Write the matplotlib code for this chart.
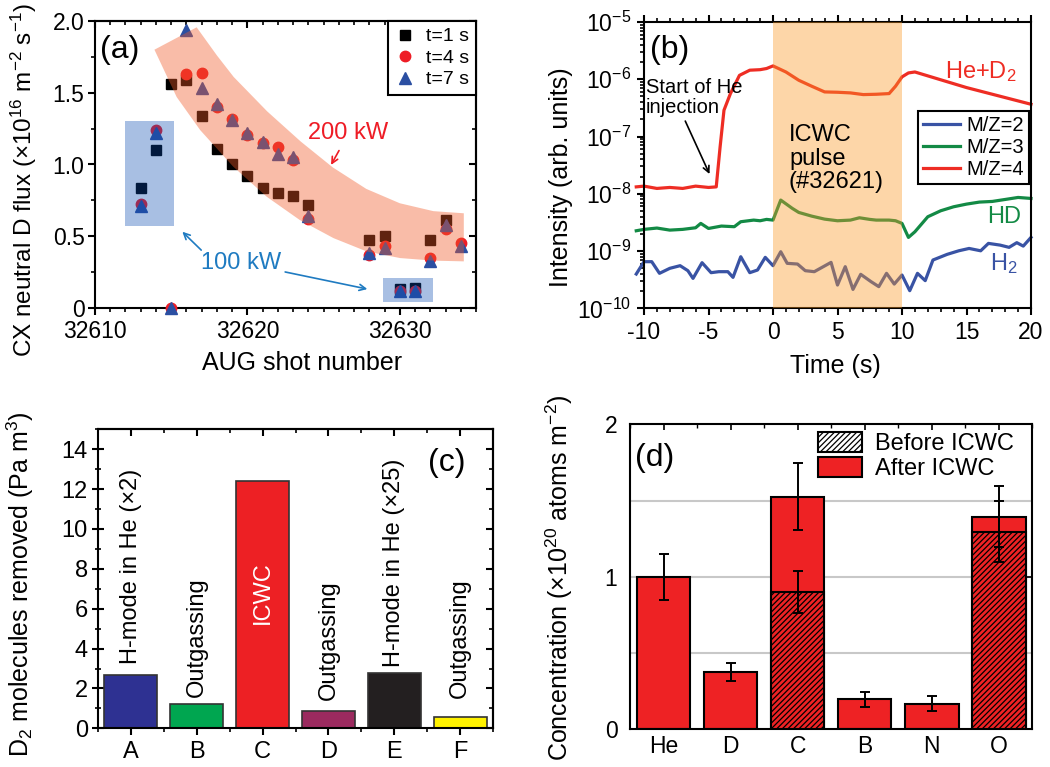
import numpy as np
import matplotlib
matplotlib.use('Agg')
import matplotlib.pyplot as plt
from matplotlib.patches import Polygon, Rectangle, Patch
from matplotlib import ticker

plt.rcParams['font.family'] = ['Liberation Sans', 'DejaVu Sans']
plt.rcParams['mathtext.fontset'] = 'custom'
plt.rcParams['mathtext.rm'] = 'Liberation Sans'
plt.rcParams['mathtext.it'] = 'Liberation Sans:italic'
plt.rcParams['mathtext.bf'] = 'Liberation Sans:bold'
plt.rcParams['mathtext.default'] = 'regular'
plt.rcParams['axes.unicode_minus'] = False
plt.rcParams['hatch.linewidth'] = 0.9
plt.rcParams['axes.linewidth'] = 1.5

# ---------------- data ----------------
# (a) CX neutral D flux vs shot
shots = [32613, 32614, 32615, 32616, 32617, 32618, 32619, 32620, 32621, 32622,
         32623, 32624, 32628, 32629, 32630, 32631, 32632, 32633, 32634]
flux_t1 = [0.835, 1.10, 1.56, 1.59, 1.335, 1.11, 1.005, 0.92, 0.835, 0.80,
           0.78, 0.715, 0.475, 0.503, 0.13, 0.137, 0.475, 0.61, np.nan]
flux_t4 = [0.726, 1.24, 0.0, 1.63, 1.635, 1.40, 1.32, 1.205, 1.15, 1.125,
           1.03, 0.62, 0.37, 0.43, 0.12, 0.115, 0.35, 0.55, 0.45]
flux_t7 = [0.71, 1.22, 0.0, 1.94, 1.53, 1.42, 1.31, 1.22, 1.16, 1.07,
           1.055, 0.64, 0.38, 0.42, 0.12, 0.12, 0.33, 0.575, 0.43]
# 200 kW band outline
band_up_x = [32616.67, 32618.0, 32619.1, 32621.3, 32623.5, 32625.6, 32627.8, 32630.0, 32632.2, 32634.2]
band_up_y = [1.956, 1.76, 1.61, 1.37, 1.16, 0.98, 0.83, 0.73, 0.675, 0.66]
band_lo_x = [32613.9, 32615.36, 32616.9, 32619.07, 32621.26, 32623.44, 32625.65, 32627.83, 32630.02, 32632.2, 32634.2]
band_lo_y = [1.80, 1.47, 1.24, 0.985, 0.776, 0.613, 0.487, 0.394, 0.348, 0.33, 0.325]

# (b) mass spectrometry signals
t_m4 = [-10.6, -10, -9, -8, -7, -6, -5, -4.4, -4.1, -3.8, -3.3, -2.6, -1.8, -1, -0.5, 0,
        1, 2, 3, 4, 5, 6, 7, 8, 9, 9.5, 10, 10.5, 11, 15, 20]
m4 = [1.32e-8, 1.36e-8, 1.24e-8, 1.29e-8, 1.24e-8, 1.36e-8, 1.29e-8, 1.32e-8, 6.6e-8, 2.88e-7,
      5.62e-7, 1.17e-6, 1.44e-6, 1.47e-6, 1.54e-6, 1.71e-6, 1.34e-6, 9.6e-7, 7.56e-7, 6.01e-7,
      5.93e-7, 5.78e-7, 5.40e-7, 5.47e-7, 5.62e-7, 7.56e-7, 1.10e-6, 1.29e-6, 1.34e-6, 7.16e-7, 3.66e-7]
t_m3 = [-10.6, -10, -9, -8, -7, -6, -5.6, -5, -4, -3, -2.5, -1.5, -1, -0.5, 0, 0.6, 1.5, 2, 3, 4,
        5, 6, 6.7, 7.5, 8, 9, 9.5, 10, 10.5, 11, 12, 13, 14, 15, 16, 17, 18, 19, 20]
m3 = [2.26e-9, 2.39e-9, 2.52e-9, 2.32e-9, 2.39e-9, 2.55e-9, 3.04e-9, 2.48e-9, 2.73e-9, 2.66e-9,
      3.25e-9, 3.47e-9, 3.38e-9, 3.57e-9, 3.47e-9, 7.76e-9, 5.55e-9, 4.72e-9, 4.07e-9, 3.61e-9,
      3.38e-9, 3.47e-9, 3.81e-9, 3.57e-9, 3.47e-9, 3.47e-9, 3.38e-9, 3.04e-9, 1.73e-9, 2.17e-9,
      3.97e-9, 5.05e-9, 5.93e-9, 6.60e-9, 7.16e-9, 7.35e-9, 7.96e-9, 8.63e-9, 8.29e-9]
t_m2 = [-10.6, -10, -9.4, -8.8, -8, -7.2, -6.6, -6.2, -5.5, -4.8, -4.2, -3.5, -3.1, -2.5, -1.8,
        -1.2, -0.6, 0, 0.6, 1.1, 1.9, 2.5, 3.2, 4.5, 5, 5.6, 6.2, 6.8, 7.6, 8.2, 8.8, 9.4, 10,
        10.6, 11.2, 11.8, 12.4, 13.5, 14.4, 15.2, 16.1, 16.7, 17.6, 18.3, 18.9, 19.4, 20]
m2 = [3.97e-10, 6.52e-10, 6.52e-10, 4.08e-10, 4.99e-10, 5.55e-10, 4.54e-10, 3.33e-10, 6.26e-10,
      4.19e-10, 4.36e-10, 4.36e-10, 3.47e-10, 7.96e-10, 4.19e-10, 4.66e-10, 7.76e-10, 5.55e-10,
      9.73e-10, 6.10e-10, 5.93e-10, 4.54e-10, 4.36e-10, 6.34e-10, 2.55e-10, 5.33e-10, 2.14e-10,
      3.92e-10, 2.92e-10, 2.39e-10, 4.08e-10, 2.65e-10, 3.81e-10, 2.03e-10, 4.08e-10, 3.04e-10,
      6.97e-10, 8.75e-10, 1.01e-9, 1.11e-9, 1.01e-9, 1.36e-9, 1.27e-9, 1.16e-9, 1.40e-9, 1.22e-9, 1.73e-9]

# (c) D2 molecules removed
cats_c = ['A', 'B', 'C', 'D', 'E', 'F']
removed = [2.67, 1.22, 12.42, 0.87, 2.75, 0.55]
colors_c = ['#2e3192', '#00a650', '#ed2024', '#9b2a5f', '#231f20', '#fff200']
bar_texts = ['H-mode in He (×2)', 'Outgassing', 'ICWC', 'Outgassing', 'H-mode in He (×25)', 'Outgassing']
text_y = [3.25, 1.58, 6.8, 1.42, 3.1, 1.5]

# (d) surface concentrations
cats_d = ['He', 'D', 'C', 'B', 'N', 'O']
after = np.array([1.0, 0.376, 1.526, 0.197, 0.168, 1.395])
after_err = np.array([0.15, 0.06, 0.22, 0.05, 0.05, 0.20])
before = np.array([0.0, 0.0, 0.90, 0.0, 0.0, 1.295])
before_err = np.array([0.0, 0.0, 0.14, 0.0, 0.0, 0.20])
grid_levels = [0.5, 1.0, 1.5]

# ---------------- figure ----------------
fig = plt.figure(figsize=(10.5, 7.67), dpi=100)
W, H = 1050.0, 767.0


def ax_px(l, t, r, b):
    return fig.add_axes([l / W, 1 - b / H, (r - l) / W, (b - t) / H])


axa = ax_px(95, 21, 476, 308)
axb = ax_px(644, 22, 1031, 308.3)
axc = ax_px(97.7, 429.3, 493.3, 728.3)
axd = ax_px(630, 424.3, 1032.3, 729.3)

TICK = 16.5
LAB = 18
RED = '#ee1c25'

# ======== (a) ========
axa.plot(shots, flux_t1, 's', color='black', ms=6.5, label='t=1 s', zorder=2, clip_on=False)
axa.plot(shots, flux_t4, 'o', color=RED, ms=7.5, label='t=4 s', zorder=3, clip_on=False)
axa.plot(shots, flux_t7, '^', color='#2b4fa2', ms=8.5, label='t=7 s', zorder=4, clip_on=False)
poly = list(zip(band_up_x, band_up_y)) + list(zip(band_lo_x[::-1], band_lo_y[::-1]))
axa.add_patch(Polygon(poly, closed=True, facecolor=(0.95, 0.35, 0.15), alpha=0.4,
                      edgecolor='none', zorder=5))
axa.add_patch(Rectangle((32611.97, 0.568), 3.23, 0.738, facecolor=(0.03, 0.29, 0.69),
                        alpha=0.35, edgecolor='none', zorder=5))
axa.add_patch(Rectangle((32628.93, 0.039), 3.24, 0.168, facecolor=(0.03, 0.29, 0.69),
                        alpha=0.35, edgecolor='none', zorder=5))
axa.set_xlim(32610, 32635)
axa.set_ylim(0, 2.0)
axa.xaxis.set_major_locator(ticker.MultipleLocator(10))
axa.xaxis.set_minor_locator(ticker.MultipleLocator(1))
axa.yaxis.set_major_locator(ticker.MultipleLocator(0.5))
axa.yaxis.set_minor_locator(ticker.MultipleLocator(0.25))
axa.yaxis.set_major_formatter(ticker.FuncFormatter(lambda v, p: '0' if abs(v) < 1e-9 else f'{v:.1f}'))
axa.xaxis.set_major_formatter(ticker.FuncFormatter(lambda v, p: f'{int(round(v))}'))
axa.tick_params(which='major', direction='out', length=5, width=1.5, labelsize=TICK)
axa.tick_params(axis='x', which='major', pad=4)
axa.tick_params(axis='y', which='major', pad=2.5)
axa.tick_params(which='minor', direction='out', length=3, width=1.2)
sa_t = axa.secondary_xaxis('top')
sa_t.xaxis.set_major_locator(ticker.MultipleLocator(10))
sa_t.xaxis.set_minor_locator(ticker.MultipleLocator(1))
sa_t.xaxis.set_major_formatter(ticker.NullFormatter())
sa_t.tick_params(which='major', direction='in', length=5, width=1.5)
sa_t.tick_params(which='minor', direction='in', length=3, width=1.2)
sa_r = axa.secondary_yaxis('right')
sa_r.yaxis.set_major_locator(ticker.MultipleLocator(0.5))
sa_r.yaxis.set_minor_locator(ticker.MultipleLocator(0.25))
sa_r.yaxis.set_major_formatter(ticker.NullFormatter())
sa_r.tick_params(which='major', direction='in', length=5, width=1.5)
sa_r.tick_params(which='minor', direction='in', length=3, width=1.2)
axa.set_xlabel('AUG shot number', fontsize=LAB)
axa.set_ylabel('CX neutral D flux (×10$^{16}$ m$^{-2}$ s$^{-1}$)', fontsize=17.5)
axa.xaxis.set_label_coords(0.543, -0.15)
axa.yaxis.set_label_coords(-0.148, 0.445)
axa.text(0.013, 0.9, '(a)', transform=axa.transAxes, fontsize=23, ha='left', va='center', zorder=7)
axa.text(32626.6, 1.218, '200 kW', color=RED, fontsize=17, ha='center', va='center', zorder=7)
axa.annotate('', xy=(32625.4, 0.98), xytext=(32626.1, 1.114),
             arrowprops=dict(arrowstyle='->,head_length=0.45,head_width=0.22', color=RED, lw=1.2),
             zorder=7)
BLUE_T = '#1f7bc1'
axa.text(32619.6, 0.313, '100 kW', color=BLUE_T, fontsize=17, ha='center', va='center', zorder=7)
axa.annotate('', xy=(32615.6, 0.545), xytext=(32617.1, 0.39),
             arrowprops=dict(arrowstyle='->,head_length=0.45,head_width=0.22', color=BLUE_T, lw=1.2),
             zorder=7)
axa.annotate('', xy=(32628.05, 0.128), xytext=(32622.3, 0.255),
             arrowprops=dict(arrowstyle='->,head_length=0.45,head_width=0.22', color=BLUE_T, lw=1.2),
             zorder=7)
lega = axa.legend(loc='upper right', bbox_to_anchor=(1.0, 1.0), borderaxespad=0, fontsize=14,
                  frameon=True, fancybox=False, edgecolor='black', framealpha=1,
                  handlelength=1.0, handletextpad=0.6, labelspacing=0.2, borderpad=0.35)
lega.get_frame().set_linewidth(1.5)
lega.set_zorder(8)

# ======== (b) ========
C2, C3, C4 = '#3953a4', '#138a45', '#ee2d24'
axb.plot(t_m2, m2, color=C2, lw=2.3, label='M/Z=2', clip_on=False, zorder=2)
axb.plot(t_m3, m3, color=C3, lw=2.3, label='M/Z=3', clip_on=False, zorder=2)
axb.plot(t_m4, m4, color=C4, lw=2.3, label='M/Z=4', clip_on=False, zorder=2)
axb.axvspan(0, 10, facecolor=(0.98, 0.6, 0.15), alpha=0.4, lw=0, zorder=3)
axb.set_yscale('log')
axb.set_ylim(1e-10, 1e-5)
axb.set_xlim(-10, 20)
axb.xaxis.set_major_locator(ticker.MultipleLocator(5))
axb.xaxis.set_minor_locator(ticker.MultipleLocator(1))
axb.yaxis.set_major_locator(ticker.LogLocator(base=10, numticks=10))
axb.yaxis.set_minor_locator(ticker.LogLocator(base=10, subs=np.arange(2, 10), numticks=20))
axb.yaxis.set_minor_formatter(ticker.NullFormatter())
axb.tick_params(which='major', direction='out', length=5, width=1.5, labelsize=TICK, top=True)
axb.tick_params(axis='x', which='major', pad=4.5)
axb.tick_params(axis='y', which='major', pad=4)
axb.tick_params(which='minor', direction='out', length=3, width=1.2, top=True)
axb.set_xlabel('Time (s)', fontsize=LAB)
axb.set_ylabel('Intensity (arb. units)', fontsize=LAB)
axb.xaxis.set_label_coords(0.494, -0.158)
axb.yaxis.set_label_coords(-0.183, 0.457)
axb.text(0.016, 0.902, '(b)', transform=axb.transAxes, fontsize=23, ha='left', va='center', zorder=7)
axb.text(16.08, 10 ** -5.872, 'He+D$_2$', color=C4, fontsize=17, ha='center', va='center', zorder=7)
axb.text(17.9, 10 ** -8.413, 'HD', color=C3, fontsize=17, ha='center', va='center', zorder=7)
axb.text(17.9, 10 ** -9.215, 'H$_2$', color=C2, fontsize=17, ha='center', va='center', zorder=7)
axb.text(-9.86, 10 ** -6.32, 'Start of He\ninjection', fontsize=14.5, ha='left', va='center',
         linespacing=1.05, zorder=7)
axb.text(1.24, 10 ** -7.384, 'ICWC\npulse\n(#32621)', fontsize=17, ha='left', va='center',
         linespacing=1.1, zorder=7)
axb.annotate('', xy=(-4.83, 10 ** -7.70), xytext=(-6.89, 10 ** -6.686),
             arrowprops=dict(arrowstyle='->,head_length=0.45,head_width=0.22', color='black', lw=1.2),
             zorder=7)
legb = axb.legend(loc='upper right', bbox_to_anchor=(0.995, 0.689), borderaxespad=0, fontsize=14.5,
                  frameon=True, fancybox=False, edgecolor='black', framealpha=1,
                  handlelength=1.85, handletextpad=0.3, labelspacing=0.15, borderpad=0.25)
legb.get_frame().set_linewidth(1.5)
legb.set_zorder(8)

# ======== (c) ========
xc = np.arange(len(cats_c))
axc.bar(xc, removed, width=0.8, color=colors_c, edgecolor='#333333', linewidth=1.2, zorder=2)
axc.set_xlim(-0.5, 5.5)
axc.set_ylim(0, 15)
axc.set_xticks(xc)
axc.set_xticklabels(cats_c)
axc.xaxis.set_minor_locator(ticker.FixedLocator(np.arange(-0.5, 6.0, 1.0)))
axc.yaxis.set_major_locator(ticker.MultipleLocator(2))
axc.yaxis.set_minor_locator(ticker.MultipleLocator(1))
axc.tick_params(axis='x', which='major', direction='out', length=5, width=1.5, labelsize=TICK + 0.5, pad=4)
axc.tick_params(axis='x', which='minor', direction='out', length=3, width=1.2)
axc.tick_params(axis='y', which='major', direction='inout', length=8, width=1.5, labelsize=TICK + 0.5, pad=3)
axc.tick_params(axis='y', which='minor', direction='inout', length=4, width=1.2)
sc_t = axc.secondary_xaxis('top')
sc_t.set_xticks(xc)
sc_t.xaxis.set_minor_locator(ticker.FixedLocator(np.arange(-0.5, 6.0, 1.0)))
sc_t.xaxis.set_major_formatter(ticker.NullFormatter())
sc_t.tick_params(which='major', direction='in', length=5, width=1.5)
sc_t.tick_params(which='minor', direction='in', length=3, width=1.2)
sc_r = axc.secondary_yaxis('right')
sc_r.yaxis.set_major_locator(ticker.MultipleLocator(2))
sc_r.yaxis.set_minor_locator(ticker.MultipleLocator(1))
sc_r.yaxis.set_major_formatter(ticker.NullFormatter())
sc_r.tick_params(which='major', direction='in', length=5, width=1.5)
sc_r.tick_params(which='minor', direction='in', length=3, width=1.2)
axc.set_ylabel('D$_2$ molecules removed (Pa m$^3$)', fontsize=LAB)
axc.yaxis.set_label_coords(-0.155, 0.483)
for i, (lab, y0) in enumerate(zip(bar_texts, text_y)):
    if lab == 'ICWC':
        axc.text(xc[i], y0, lab, rotation=90, ha='center', va='center', fontsize=17,
                 color='white', zorder=4)
    else:
        axc.text(xc[i], y0, lab, rotation=90, ha='center', va='bottom', fontsize=17, zorder=4)
axc.text(0.835, 0.887, '(c)', transform=axc.transAxes, fontsize=23, ha='left', va='center')

# ======== (d) ========
xd = np.arange(len(cats_d))
for g in grid_levels:
    axd.axhline(g, color='#c8c8c8', lw=1.5, zorder=0)
RED_D = '#ee2224'
axd.bar(xd, after, width=0.8, color=RED_D, edgecolor='black', linewidth=1.5, zorder=2)
m = before > 0
axd.bar(xd[m], before[m], width=0.8, facecolor=RED_D, edgecolor='black', hatch='//////',
        linewidth=1.5, zorder=3)
axd.errorbar(xd, after, yerr=after_err, fmt='none', ecolor='black', elinewidth=1.4,
             capsize=3.5, capthick=1.4, zorder=4)
axd.errorbar(xd[m], before[m], yerr=before_err[m], fmt='none', ecolor='black', elinewidth=1.4,
             capsize=3.5, capthick=1.4, zorder=4)
axd.set_xlim(-0.5, 5.5)
axd.set_ylim(0, 2)
axd.set_xticks(xd)
axd.set_xticklabels(cats_d)
axd.xaxis.set_minor_locator(ticker.FixedLocator(np.arange(-0.5, 6.0, 1.0)))
axd.set_yticks([0, 1, 2])
axd.tick_params(axis='x', which='major', direction='in', length=4, width=1.2, top=True,
                labelsize=TICK, pad=4)
axd.tick_params(axis='x', which='minor', direction='in', length=3, width=1.0, bottom=False, top=True)
axd.tick_params(axis='y', which='major', direction='in', length=4, width=1.2, left=False,
                right=True, labelleft=True, labelsize=TICK, pad=9)
axd.set_ylabel('Concentration (×10$^{20}$ atoms m$^{-2}$)', fontsize=LAB)
axd.yaxis.set_label_coords(-0.137, 0.496)
axd.text(0.012, 0.89, '(d)', transform=axd.transAxes, fontsize=23, ha='left', va='center')
hd = [Patch(facecolor='white', edgecolor='black', hatch='//////', linewidth=1.5),
      Patch(facecolor=RED_D, edgecolor='black', linewidth=1.5)]
axd.legend(hd, ['Before ICWC', 'After ICWC'], loc='upper left', bbox_to_anchor=(0.468, 0.975),
           borderaxespad=0, frameon=False, fontsize=17, handlelength=1.85, handleheight=0.9,
           handletextpad=0.55, labelspacing=0.1, borderpad=0)

fig.savefig('out.png', dpi=100)
